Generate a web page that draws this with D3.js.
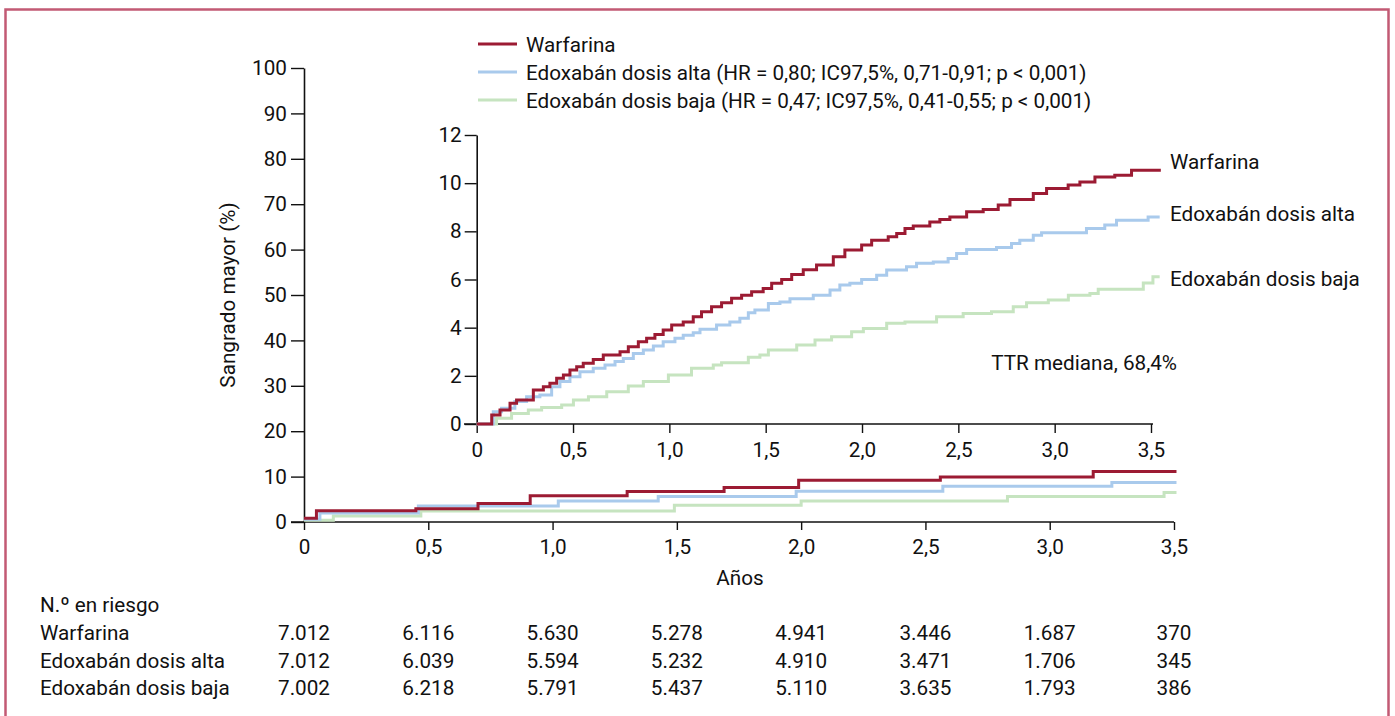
<!DOCTYPE html>
<html><head><meta charset="utf-8">
<script src="https://cdn.jsdelivr.net/npm/d3@7"></script>
<style>
html,body{margin:0;padding:0;background:#fff;}
svg text{font-family:"Liberation Sans Narrow","Arial Narrow","Roboto",sans-serif;font-size:20.7px;fill:#111;}
</style></head>
<body><svg id="c" width="1395" height="716"></svg>
<script>
// ---------- DATA ----------
const seriesNames = ["Warfarina", "Edoxabán dosis alta", "Edoxabán dosis baja"];
const legendLabels = [
  "Warfarina",
  "Edoxabán dosis alta (HR = 0,80; IC97,5%, 0,71-0,91; p < 0,001)",
  "Edoxabán dosis baja (HR = 0,47; IC97,5%, 0,41-0,55; p < 0,001)"
];
const seriesColors = ["#9c1b33", "#a9caec", "#c6e4c0"];

const mainYTicks = [0,10,20,30,40,50,60,70,80,90,100];
const yearTicks = [0,0.5,1.0,1.5,2.0,2.5,3.0,3.5];
const insetYTicks = [0,2,4,6,8,10,12];

// main panel (years, %)
const mainWarfarina = [[0,0.8],[0.05,2.5],[0.45,2.9],[0.70,4.1],[0.91,5.8],[1.30,6.7],[1.69,7.6],[1.99,9.2],[2.56,9.9],[3.175,11.1],[3.51,11.1]];
const mainAlta = [[0,0.6],[0.064,2.0],[0.46,3.5],[1.023,4.6],[1.425,5.6],[1.98,6.8],[2.57,7.9],[3.25,8.7],[3.51,8.7]];
const mainBaja = [[0,0.4],[0.118,1.3],[0.47,2.4],[1.49,3.7],[2.0,4.6],[2.83,5.6],[3.46,6.5],[3.51,6.5]];

// inset panel (years, %)
const insetWarfarina = [[0,0],[0.078,0.37],[0.121,0.58],[0.173,0.86],[0.207,1.0],[0.294,1.41],[0.346,1.55],[0.38,1.69],[0.415,1.9],[0.45,2.03],[0.484,2.24],[0.519,2.38],[0.553,2.52],[0.605,2.68],[0.657,2.86],[0.744,3.0],[0.787,3.21],[0.839,3.42],[0.882,3.56],[0.925,3.72],[0.968,3.9],[1.012,4.11],[1.072,4.24],[1.124,4.45],[1.167,4.66],[1.219,4.87],[1.271,5.03],[1.323,5.22],[1.375,5.35],[1.427,5.49],[1.487,5.63],[1.531,5.84],[1.583,6.0],[1.635,6.21],[1.695,6.4],[1.764,6.6],[1.851,6.94],[1.911,7.22],[1.998,7.43],[2.05,7.63],[2.136,7.77],[2.18,7.91],[2.223,8.12],[2.266,8.22],[2.352,8.39],[2.404,8.49],[2.456,8.6],[2.543,8.81],[2.629,8.91],[2.707,9.09],[2.768,9.32],[2.889,9.57],[2.958,9.78],[3.07,9.92],[3.131,10.05],[3.209,10.26],[3.312,10.33],[3.399,10.54],[3.551,10.54]];
const insetAlta = [[0,0],[0.086,0.51],[0.129,0.65],[0.198,0.93],[0.259,1.13],[0.328,1.2],[0.389,1.55],[0.432,1.76],[0.484,1.96],[0.536,2.17],[0.605,2.31],[0.666,2.45],[0.718,2.59],[0.761,2.72],[0.813,2.93],[0.865,3.07],[0.917,3.24],[0.968,3.42],[1.029,3.56],[1.072,3.69],[1.124,3.79],[1.159,3.93],[1.245,4.11],[1.314,4.24],[1.366,4.39],[1.41,4.62],[1.444,4.73],[1.514,5.0],[1.574,5.07],[1.626,5.2],[1.747,5.35],[1.834,5.56],[1.885,5.77],[1.937,5.84],[1.998,6.0],[2.076,6.18],[2.128,6.39],[2.231,6.53],[2.283,6.67],[2.37,6.73],[2.447,6.87],[2.491,7.08],[2.543,7.25],[2.698,7.33],[2.776,7.5],[2.819,7.63],[2.889,7.84],[2.932,7.94],[3.165,8.12],[3.26,8.26],[3.321,8.46],[3.485,8.6],[3.545,8.6]];
const insetBaja = [[0,0],[0.103,0.24],[0.181,0.44],[0.268,0.58],[0.337,0.69],[0.441,0.79],[0.502,1.0],[0.58,1.13],[0.675,1.34],[0.787,1.58],[0.865,1.76],[0.995,2.03],[1.115,2.31],[1.228,2.45],[1.271,2.54],[1.41,2.77],[1.47,2.86],[1.514,3.07],[1.661,3.28],[1.756,3.49],[1.842,3.62],[1.946,3.83],[2.007,3.97],[2.128,4.18],[2.223,4.24],[2.387,4.45],[2.525,4.59],[2.672,4.66],[2.785,4.87],[2.854,5.03],[2.967,5.15],[3.071,5.35],[3.183,5.42],[3.226,5.6],[3.46,5.85],[3.51,6.11],[3.545,6.11]];

const riskTitle = "N.º en riesgo";
const riskWarfarina = ["7.012","6.116","5.630","5.278","4.941","3.446","1.687","370"];
const riskAlta = ["7.012","6.039","5.594","5.232","4.910","3.471","1.706","345"];
const riskBaja = ["7.002","6.218","5.791","5.437","5.110","3.635","1.793","386"];

const insetNote = "TTR mediana, 68,4%";
const yLabel = "Sangrado mayor (%)";
const xLabel = "Años";

// ---------- DRAW ----------
const svg = d3.select("#c");
const fmt = d => d === 0 ? "0" : d3.format(".1f")(d).replace(".", ",");

// frame
svg.append("path").attr("d","M5.5,720V9.5H1388.5V720")
  .attr("fill","none").attr("stroke","#c25a74").attr("stroke-width",2.5);

// main scales
const x = d3.scaleLinear().domain([0,3.5]).range([304,1174]);
const y = d3.scaleLinear().domain([0,100]).range([522,68]);

const gx = svg.append("g").attr("transform","translate(0,522)")
  .call(d3.axisBottom(x).tickValues(yearTicks).tickFormat(fmt).tickSize(8).tickSizeOuter(0));
const gy = svg.append("g").attr("transform","translate(304,0)")
  .call(d3.axisLeft(y).tickValues(mainYTicks).tickSize(13).tickSizeOuter(0));
[gx,gy].forEach(g=>{
  g.select(".domain").attr("stroke","#111").attr("stroke-width",1.6);
  g.selectAll(".tick line").attr("stroke","#111").attr("stroke-width",1.4);
  g.selectAll(".tick text").style("font-size","20.7px").attr("fill","#111");
});
gx.select(".domain").attr("d","M291,0H1174");
gx.selectAll(".tick text").attr("dy","0.95em").attr("y",12);
gy.selectAll(".tick text").attr("x",-17);

const mainSeries = [mainWarfarina, mainAlta, mainBaja];
const lineMain = d3.line().x(d=>x(d[0])).y(d=>y(d[1])).curve(d3.curveStepAfter);
[2,1,0].forEach(i=>{
  svg.append("path").datum(mainSeries[i]).attr("d",lineMain)
    .attr("fill","none").attr("stroke",seriesColors[i]).attr("stroke-width",3);
});

svg.append("text").attr("transform","translate(235,295) rotate(-90)")
  .attr("text-anchor","middle").text(yLabel);
svg.append("text").attr("x",740).attr("y",585).attr("text-anchor","middle").text(xLabel);

// inset
const xi = d3.scaleLinear().domain([0,3.5]).range([476.7,1151]);
const yi = d3.scaleLinear().domain([0,12]).range([424,135]);
const gxi = svg.append("g").attr("transform","translate(0,424)")
  .call(d3.axisBottom(xi).tickValues(yearTicks).tickFormat(fmt).tickSize(9).tickSizeOuter(0));
const gyi = svg.append("g").attr("transform","translate(476.7,0)")
  .call(d3.axisLeft(yi).tickValues(insetYTicks).tickSize(12).tickSizeOuter(0));
[gxi,gyi].forEach(g=>{
  g.select(".domain").attr("stroke","#111").attr("stroke-width",1.6);
  g.selectAll(".tick line").attr("stroke","#111").attr("stroke-width",1.4);
  g.selectAll(".tick text").style("font-size","20.7px").attr("fill","#111");
});
gxi.select(".domain").attr("d","M464,0H1153");
gxi.selectAll(".tick text").attr("dy","0.95em").attr("y",13);
gyi.selectAll(".tick text").attr("x",-15);

const insetSeries = [insetWarfarina, insetAlta, insetBaja];
const lineInset = d3.line().x(d=>xi(d[0])).y(d=>yi(d[1])).curve(d3.curveStepAfter);
[2,1,0].forEach(i=>{
  svg.append("path").datum(insetSeries[i]).attr("d",lineInset)
    .attr("fill","none").attr("stroke",seriesColors[i]).attr("stroke-width",3);
});

// right labels beside series ends
const endLabelY = [169, 221, 286];
insetSeries.forEach((s,i)=>{
  svg.append("text").attr("x",1170).attr("y",endLabelY[i]).text(seriesNames[i]);
});
svg.append("text").attr("x",1177).attr("y",370).attr("text-anchor","end").text(insetNote);

// legend
legendLabels.forEach((l,i)=>{
  const yy = 44 + i*28;
  svg.append("line").attr("x1",478).attr("x2",517).attr("y1",yy).attr("y2",yy)
    .attr("stroke",seriesColors[i]).attr("stroke-width",3);
  svg.append("text").attr("x",526).attr("y",yy+7.5).text(l);
});

// risk table
svg.append("text").attr("x",40).attr("y",612).text(riskTitle);
const riskRows = [riskWarfarina, riskAlta, riskBaja];
riskRows.forEach((row,i)=>{
  const yy = 640 + i*27.5;
  svg.append("text").attr("x",40).attr("y",yy).text(seriesNames[i]);
  row.forEach((v,j)=>{
    svg.append("text").attr("x",x(yearTicks[j])).attr("y",yy).attr("text-anchor","middle").text(v);
  });
});
</script></body></html>
